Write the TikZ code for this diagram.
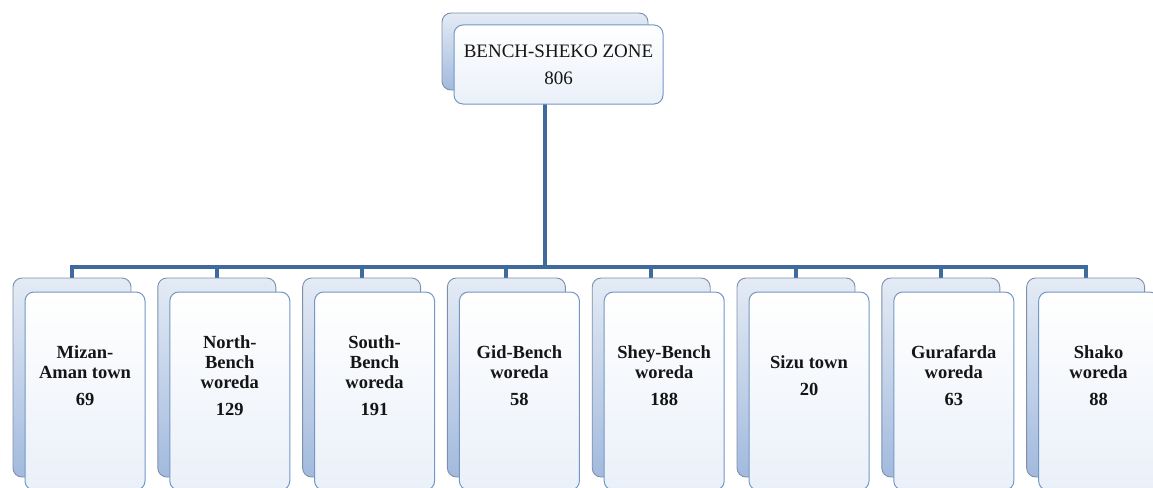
\documentclass[tikz,border=0pt]{standalone}
\usepackage{fontspec}
\setmainfont{Liberation Serif}
\usetikzlibrary{backgrounds}
\definecolor{conn}{HTML}{3E6A9C}
\definecolor{backdraw}{HTML}{7F8FAB}
\definecolor{backtop}{HTML}{E4EBF5}
\definecolor{backbot}{HTML}{A2BADD}
\definecolor{frontdraw}{HTML}{7397C6}
\definecolor{frontbot}{HTML}{EAF0F9}
\definecolor{txt}{HTML}{151515}
\tikzset{
  backbox/.style={rectangle, rounded corners=9pt, draw=backdraw, line width=0.9pt,
    top color=backtop, bottom color=backbot, inner sep=0pt},
  frontbox/.style={rectangle, rounded corners=9pt, draw=frontdraw, line width=1pt,
    top color=white, bottom color=frontbot, inner sep=0pt},
  conn/.style={draw=conn, line width=4pt},
  toplabel/.style={align=center, text=txt, font=\fontsize{19}{27}\selectfont, inner sep=0pt},
  botlabel/.style={align=center, text=txt, font=\fontsize{18.5}{20}\selectfont\bfseries, inner sep=0pt},
}
\begin{document}
\begin{tikzpicture}[x=1pt,y=-1pt]
\useasboundingbox (0,0) rectangle (1153,487);
% top
\node[backbox, minimum width=206pt, minimum height=77pt] (topback) at (545,51.5) {};
\node[frontbox, minimum width=209pt, minimum height=79pt] (topfront) at (558.5,64.5) {};
\node[toplabel] (toplab) at (558.5,65) {BENCH-SHEKO ZONE\\806};
\coordinate (hub) at (545,267);
% children
\foreach \i/\txt in {0/{Mizan-\\Aman town\\[7pt]69},
                     1/{North-\\Bench\\woreda\\[7pt]129},
                     2/{South-\\Bench\\woreda\\[7pt]191},
                     3/{Gid-Bench\\woreda\\[7pt]58},
                     4/{Shey-Bench\\woreda\\[7pt]188},
                     5/{Sizu town\\[7pt]20},
                     6/{Gurafarda\\woreda\\[7pt]63},
                     7/{Shako\\woreda\\[7pt]88}} {
  \node[backbox, minimum width=118pt, minimum height=199pt] (back\i) at (72+144.8*\i,377.5) {};
  \node[frontbox, minimum width=120pt, minimum height=198pt] (front\i) at (85+144.8*\i,391) {};
  \node[botlabel] (lab\i) at (85+144.8*\i,376) {\txt};
}
\begin{scope}[on background layer]
  \draw[conn] (topback.center) -- (hub);
  \foreach \i in {0,...,7} {
    \draw[conn] (hub) -| (back\i.north);
  }
\end{scope}
\end{tikzpicture}
\end{document}
